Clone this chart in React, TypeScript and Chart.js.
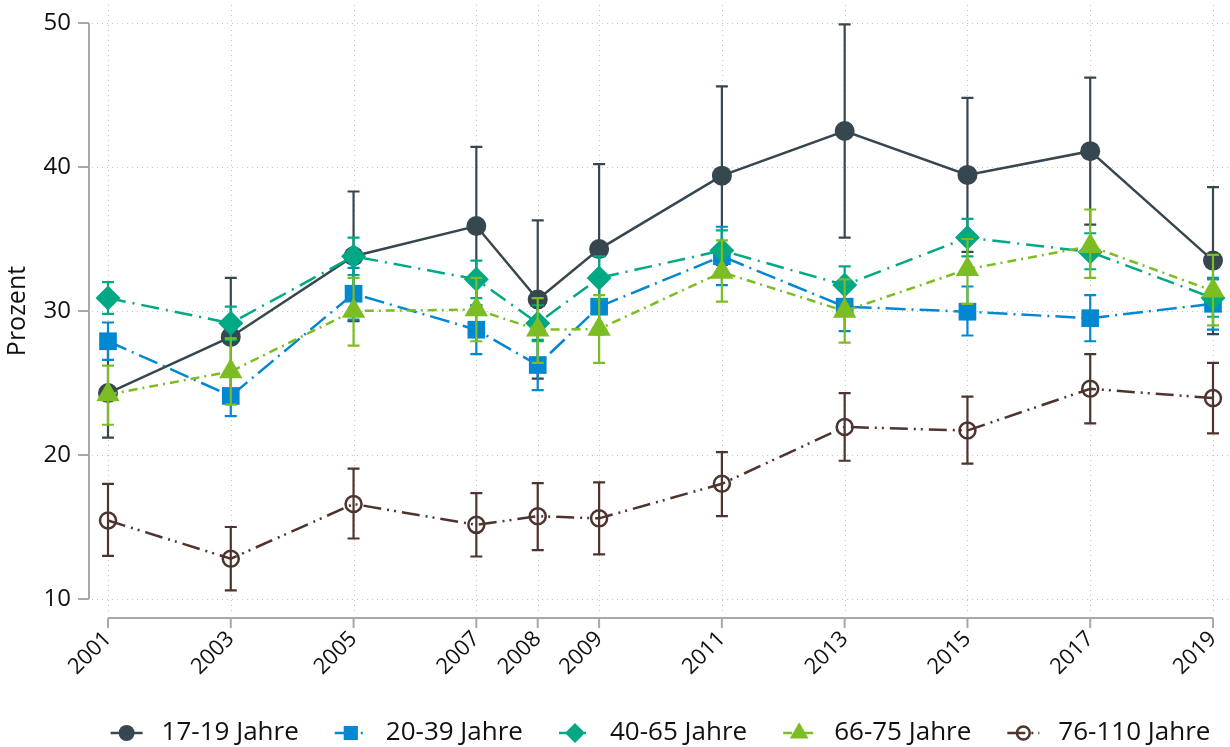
import React, { useEffect, useRef } from "react";
import { Chart, registerables } from "chart.js";

Chart.register(...registerables);

const FONT = "'Open Sans', 'DejaVu Sans', sans-serif";
const TEXT_COLOR = "#111111";

const years = [2001, 2003, 2005, 2007, 2008, 2009, 2011, 2013, 2015, 2017, 2019];
const yTickValues = [10, 20, 30, 40, 50];
const yTitle = "Prozent";
const seriesLabels = ["17-19 Jahre", "20-39 Jahre", "40-65 Jahre", "66-75 Jahre", "76-110 Jahre"];

const val1719 = [24.3, 28.2, 33.8, 35.9, 30.8, 34.3, 39.4, 42.5, 39.45, 41.1, 33.5];
const lo1719 = [21.2, 24.2, 29.3, 30.4, 25.3, 28.4, 33.2, 35.1, 34.1, 36.0, 28.4];
const hi1719 = [27.4, 32.3, 38.3, 41.4, 36.3, 40.2, 45.6, 49.9, 44.8, 46.2, 38.6];

const val2039 = [27.9, 24.1, 31.2, 28.7, 26.25, 30.3, 33.8, 30.3, 29.95, 29.5, 30.5];
const lo2039 = [26.6, 22.7, 29.4, 27.0, 24.5, 28.4, 31.8, 28.6, 28.3, 27.9, 28.7];
const hi2039 = [29.2, 25.5, 33.0, 30.4, 28.0, 32.2, 35.85, 32.0, 31.7, 31.1, 32.3];

const val4065 = [30.9, 29.15, 33.8, 32.2, 29.15, 32.3, 34.2, 31.8, 35.1, 34.1, 30.9];
const lo4065 = [29.8, 28.0, 32.5, 30.9, 27.9, 30.8, 32.8, 30.5, 33.8, 32.9, 29.6];
const hi4065 = [32.0, 30.3, 35.1, 33.5, 30.4, 33.8, 35.6, 33.1, 36.4, 35.4, 32.2];

const val6675 = [24.2, 25.8, 30.0, 30.1, 28.7, 28.75, 32.7, 30.0, 32.9, 34.5, 31.4];
const lo6675 = [22.1, 23.5, 27.6, 27.9, 26.4, 26.4, 30.65, 27.8, 30.5, 32.3, 29.0];
const hi6675 = [26.2, 28.1, 32.3, 32.3, 30.9, 31.1, 34.9, 32.2, 35.0, 37.05, 33.9];

const val76110 = [15.45, 12.8, 16.6, 15.15, 15.75, 15.6, 18.0, 21.95, 21.7, 24.6, 23.95];
const lo76110 = [13.0, 10.6, 14.2, 12.95, 13.4, 13.1, 15.75, 19.6, 19.4, 22.2, 21.5];
const hi76110 = [18.0, 15.0, 19.05, 17.35, 18.05, 18.1, 20.2, 24.3, 24.05, 27.0, 26.4];

const values = [val1719, val2039, val4065, val6675, val76110];
const lowers = [lo1719, lo2039, lo4065, lo6675, lo76110];
const uppers = [hi1719, hi2039, hi4065, hi6675, hi76110];

const colors = ["#37474f", "#0288d1", "#00a884", "#7bbd22", "#4e342e"];
const dashes: number[][] = [[], [20, 6, 2, 6], [18, 7, 2, 7], [9, 5, 2, 5], [18, 6, 2, 5, 2, 6]];
const pointStyles = ["circle", "rect", "rectRot", "triangle", "circle"];
const pointRadii = [10, 12.5, 12.5, 13.5, 8];
const hollow = [false, false, false, false, true];

function drawMarker(ctx: CanvasRenderingContext2D, i: number, x: number, y: number, r: number) {
  const style = pointStyles[i];
  ctx.beginPath();
  if (style === "circle") {
    ctx.arc(x, y, r, 0, Math.PI * 2);
  } else if (style === "rect") {
    const s = r * Math.SQRT1_2;
    ctx.rect(x - s, y - s, 2 * s, 2 * s);
  } else if (style === "rectRot") {
    ctx.moveTo(x - r, y);
    ctx.lineTo(x, y - r);
    ctx.lineTo(x + r, y);
    ctx.lineTo(x, y + r);
    ctx.closePath();
  } else if (style === "triangle") {
    ctx.moveTo(x, y - r);
    ctx.lineTo(x + r * Math.sin(Math.PI * 2 / 3), y - r * Math.cos(Math.PI * 2 / 3));
    ctx.lineTo(x - r * Math.sin(Math.PI * 2 / 3), y - r * Math.cos(Math.PI * 2 / 3));
    ctx.closePath();
  }
  if (hollow[i]) {
    ctx.lineWidth = 2.5;
    ctx.strokeStyle = colors[i];
    ctx.stroke();
  } else {
    ctx.fillStyle = colors[i];
    ctx.fill();
  }
}

const framePlugin = {
  id: "frame",
  beforeDatasetsDraw(chart: any) {
    const { ctx, chartArea: ca } = chart;
    const x = chart.scales.x;
    const y = chart.scales.y;
    ctx.save();
    ctx.strokeStyle = "#c4c4c4";
    ctx.lineWidth = 1;
    ctx.setLineDash([1, 4]);
    yTickValues.forEach((v) => {
      const py = Math.round(y.getPixelForValue(v)) + 0.5;
      ctx.beginPath();
      ctx.moveTo(ca.left - 16, py);
      ctx.lineTo(chart.width, py);
      ctx.stroke();
    });
    years.forEach((v) => {
      const px = Math.round(x.getPixelForValue(v)) + 0.5;
      ctx.beginPath();
      ctx.moveTo(px, ca.top - 18);
      ctx.lineTo(px, ca.bottom + 12);
      ctx.stroke();
    });
    ctx.setLineDash([]);
    ctx.strokeStyle = "#a8a8a8";
    ctx.lineWidth = 2;
    const axX = ca.left - 19;
    ctx.beginPath();
    ctx.moveTo(axX, y.getPixelForValue(50));
    ctx.lineTo(axX, y.getPixelForValue(10));
    yTickValues.forEach((v) => {
      const py = y.getPixelForValue(v);
      ctx.moveTo(axX - 11, py);
      ctx.lineTo(axX, py);
    });
    const axY = ca.bottom + 19;
    ctx.moveTo(x.getPixelForValue(years[0]), axY);
    ctx.lineTo(x.getPixelForValue(years[years.length - 1]), axY);
    years.forEach((v) => {
      const px = x.getPixelForValue(v);
      ctx.moveTo(px, axY);
      ctx.lineTo(px, axY + 10);
    });
    ctx.stroke();

    // y-axis title
    ctx.translate(18, (ca.top + ca.bottom) / 2);
    ctx.rotate(-Math.PI / 2);
    ctx.font = `25px ${FONT}`;
    ctx.fillStyle = TEXT_COLOR;
    ctx.textAlign = "center";
    ctx.textBaseline = "middle";
    ctx.fillText(yTitle, 0, 0);
    ctx.restore();
  },
};

const errorBarPlugin = {
  id: "errorBars",
  afterDatasetDraw(chart: any, args: any) {
    const i = args.index;
    const { ctx } = chart;
    const x = chart.scales.x;
    const y = chart.scales.y;
    ctx.save();
    ctx.strokeStyle = colors[i];
    ctx.lineWidth = 2.2;
    ctx.setLineDash([]);
    years.forEach((yr, k) => {
      const px = x.getPixelForValue(yr);
      const top = y.getPixelForValue(uppers[i][k]);
      const bot = y.getPixelForValue(lowers[i][k]);
      ctx.beginPath();
      ctx.moveTo(px, top);
      ctx.lineTo(px, bot);
      ctx.moveTo(px - 6, top);
      ctx.lineTo(px + 6, top);
      ctx.moveTo(px - 6, bot);
      ctx.lineTo(px + 6, bot);
      ctx.stroke();
    });
    ctx.restore();
  },
};

const LEGEND_SIZE = 26;
const legendPlugin = {
  id: "customLegend",
  afterDraw(chart: any) {
    const { ctx, chartArea: ca } = chart;
    ctx.save();
    ctx.font = `${LEGEND_SIZE}px ${FONT}`;
    const lineLen = 32;
    const gapText = 19;
    const gapItem = 36;
    const widths = seriesLabels.map((l) => ctx.measureText(l).width);
    const total = widths.reduce((a, w) => a + lineLen + gapText + w, 0) + gapItem * (seriesLabels.length - 1);
    let cx = (ca.left + ca.right) / 2 - total / 2;
    const cy = 733;
    seriesLabels.forEach((label, i) => {
      ctx.save();
      ctx.strokeStyle = colors[i];
      ctx.lineWidth = 2.5;
      ctx.setLineDash(dashes[i]);
      ctx.beginPath();
      ctx.moveTo(cx, cy);
      ctx.lineTo(cx + lineLen, cy);
      ctx.stroke();
      ctx.setLineDash([]);
      drawMarker(ctx, i, cx + lineLen / 2, cy, pointRadii[i] * 0.8);
      ctx.restore();
      ctx.fillStyle = TEXT_COLOR;
      ctx.textAlign = "left";
      ctx.textBaseline = "middle";
      ctx.fillText(label, cx + lineLen + gapText, cy);
      cx += lineLen + gapText + widths[i] + gapItem;
    });
    ctx.restore();
  },
};

export default function App() {
  const canvasRef = useRef<HTMLCanvasElement | null>(null);

  useEffect(() => {
    document.body.style.margin = "0";
    const canvas = canvasRef.current;
    if (!canvas) return;
    const datasets = seriesLabels.map((label, i) => ({
      label,
      data: years.map((yr, k) => ({ x: yr, y: values[i][k] })),
      borderColor: colors[i],
      backgroundColor: colors[i],
      borderWidth: 2.5,
      borderDash: dashes[i],
      pointStyle: pointStyles[i],
      pointRadius: pointRadii[i],
      pointBackgroundColor: hollow[i] ? "rgba(0,0,0,0)" : colors[i],
      pointBorderColor: colors[i],
      pointBorderWidth: hollow[i] ? 2.5 : 0,
      tension: 0,
      fill: false,
      clip: false,
      order: seriesLabels.length - i,
    }));

    const chart = new Chart(canvas, {
      type: "line",
      data: { datasets },
      plugins: [framePlugin, errorBarPlugin, legendPlugin],
      options: {
        responsive: false,
        animation: false,
        devicePixelRatio: 1,
        layout: { padding: { top: 23, right: 17, bottom: 0, left: 0 } },
        plugins: {
          legend: { display: false },
          tooltip: { enabled: false },
        },
        scales: {
          x: {
            type: "linear",
            min: 2001,
            max: 2019,
            grid: { display: false, drawTicks: false },
            border: { display: false },
            afterBuildTicks: (s: any) => {
              s.ticks = years.map((v) => ({ value: v }));
            },
            ticks: {
              autoSkip: false,
              maxRotation: 45,
              minRotation: 45,
              padding: 27,
              color: TEXT_COLOR,
              font: { family: FONT, size: 22 },
              callback: (v: any) => String(v),
            },
            afterFit: (s: any) => {
              s.height = 148;
              s.paddingLeft = 0;
              s.paddingRight = 0;
            },
          },
          y: {
            type: "linear",
            min: 10,
            max: 50,
            grid: { display: false, drawTicks: false },
            border: { display: false },
            afterBuildTicks: (s: any) => {
              s.ticks = yTickValues.map((v) => ({ value: v }));
            },
            ticks: {
              padding: 37,
              color: TEXT_COLOR,
              font: { family: FONT, size: 24 },
              callback: (v: any) => String(v),
            },
            title: { display: false },
            afterFit: (s: any) => {
              s.width = 108;
              s.paddingTop = 0;
              s.paddingBottom = 0;
            },
          },
        },
      },
    } as any);
    return () => chart.destroy();
  }, []);

  return <canvas ref={canvasRef} width={1230} height={747} style={{ display: "block" }} />;
}
